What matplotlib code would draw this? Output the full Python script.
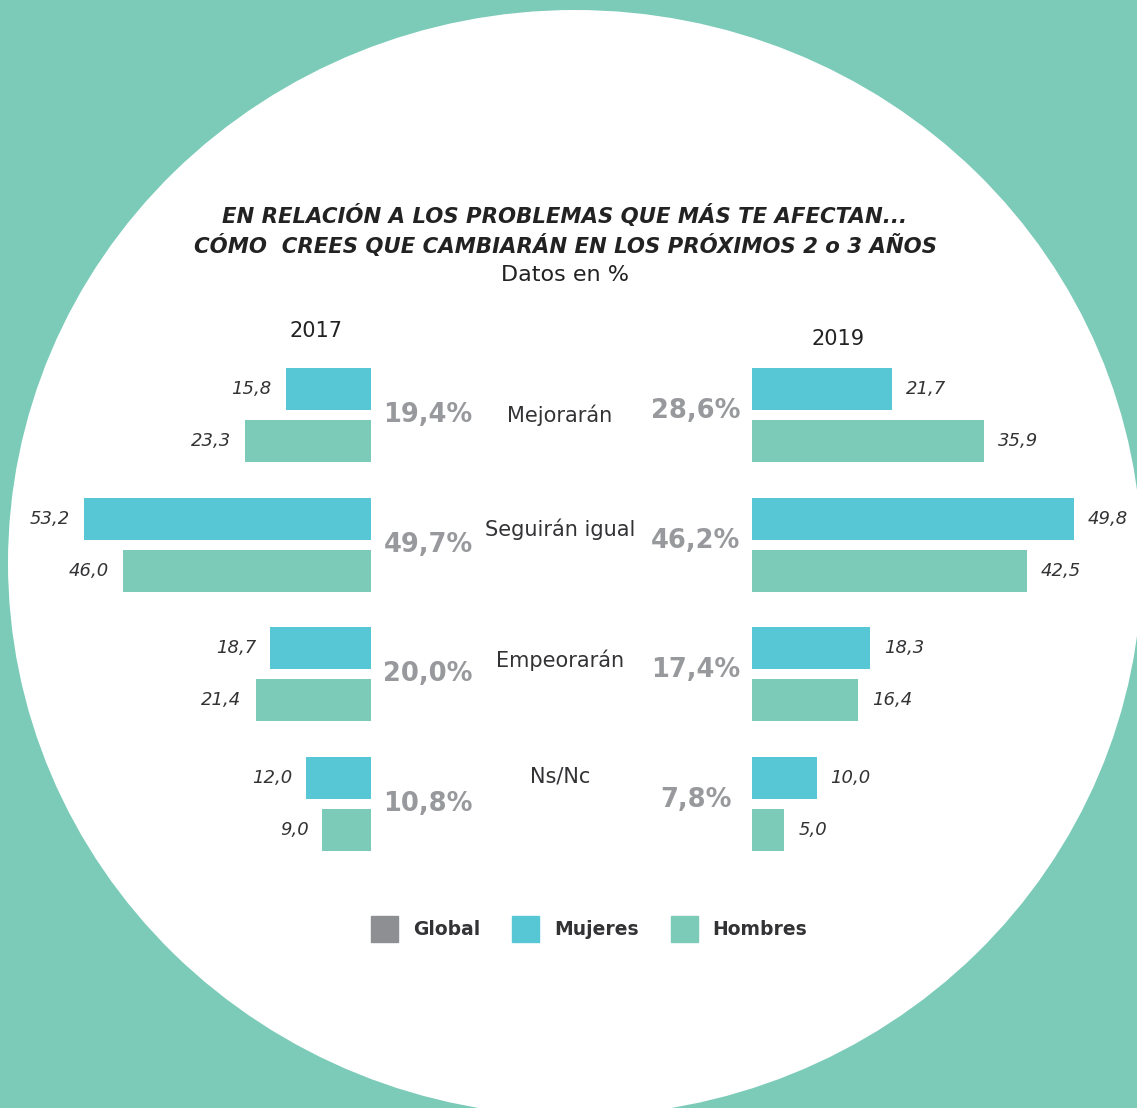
import matplotlib.pyplot as plt
from matplotlib.patches import Ellipse, Patch
from matplotlib.transforms import blended_transform_factory

# data
categories = ["Mejorarán", "Seguirán igual", "Empeorarán", "Ns/Nc"]
mujeres_2017 = [15.8, 53.2, 18.7, 12.0]
hombres_2017 = [23.3, 46.0, 21.4, 9.0]
global_2017 = ["19,4%", "49,7%", "20,0%", "10,8%"]
mujeres_2019 = [21.7, 49.8, 18.3, 10.0]
hombres_2019 = [35.9, 42.5, 16.4, 5.0]
global_2019 = ["28,6%", "46,2%", "17,4%", "7,8%"]

TEAL = "#7bcbb8"
CYAN = "#58c7d5"
GREY = "#8e8f93"
PCT_GREY = "#98999c"
DARK = "#333336"

W, H = 1137, 1108
fig = plt.figure(figsize=(W / 100, H / 100), dpi=100, facecolor=TEAL)

# background: white circle on teal
bg = fig.add_axes([0, 0, 1, 1])
bg.set_xlim(0, W)
bg.set_ylim(H, 0)
bg.axis("off")
bg.add_patch(Ellipse((575, 563), 1134, 1106, fc="white", ec="none"))

# bar panels (pixel geometry of the reference)
unit = 129.67          # px between groups
top_px, bot_px = 340, 880
y_top = -(415 - top_px) / unit
y_bot = y_top + (bot_px - top_px) / unit
ax_rect_y = ((H - bot_px) / H, (bot_px - top_px) / H)

axL = fig.add_axes([47.3 / W, ax_rect_y[0], 323.7 / W, ax_rect_y[1]])
axR = fig.add_axes([752 / W, ax_rect_y[0], 355.6 / W, ax_rect_y[1]])
axL.set_xlim(60, 0)
axR.set_xlim(0, 55)

idx = list(range(len(categories)))
off, bh = 0.2005, 0.324
for ax, muj, hom, side in [(axL, mujeres_2017, hombres_2017, -1),
                           (axR, mujeres_2019, hombres_2019, 1)]:
    ax.set_ylim(y_bot, y_top)
    ax.axis("off")
    ax.patch.set_alpha(0)
    ym = [i - off for i in idx]
    yh = [i + off for i in idx]
    ax.barh(ym, muj, height=bh, color=CYAN)
    ax.barh(yh, hom, height=bh, color=TEAL)
    for vals, ys in [(muj, ym), (hom, yh)]:
        for v, y in zip(vals, ys):
            ax.annotate(f"{v:.1f}".replace(".", ","), (v, y),
                        xytext=(10 * side, 0), textcoords="offset points",
                        ha="right" if side < 0 else "left", va="center",
                        fontsize=13, style="italic", color=DARK,
                        annotation_clip=False)

# global percentages and category names
trL = blended_transform_factory(bg.transData, axL.transData)
cat_dy = [0, -0.116, -0.108, -0.216]
for i in idx:
    bg.text(428, i, global_2017[i], transform=trL, ha="center",
            va="center", fontsize=18.5, fontweight="bold", color=PCT_GREY)
    bg.text(696, i - 0.03, global_2019[i], transform=trL, ha="center",
            va="center", fontsize=18.5, fontweight="bold", color=PCT_GREY)
    bg.text(560, i + cat_dy[i], categories[i], transform=trL, ha="center",
            va="center", fontsize=15, color=DARK)

# titles
bg.text(565, 216, "EN RELACIÓN A LOS PROBLEMAS QUE MÁS TE AFECTAN...",
        ha="center", va="center", fontsize=15.3, fontweight="bold",
        style="italic", color="#222")
bg.text(565, 246, "CÓMO  CREES QUE CAMBIARÁN EN LOS PRÓXIMOS 2 o 3 AÑOS",
        ha="center", va="center", fontsize=15.3, fontweight="bold",
        style="italic", color="#222")
bg.text(565, 275, "Datos en %", ha="center", va="center", fontsize=16,
        color="#222")
bg.text(316, 331, "2017", ha="center", va="center", fontsize=15, color="#222")
bg.text(838, 339, "2019", ha="center", va="center", fontsize=15, color="#222")

handles = [Patch(color=GREY, label="Global"),
           Patch(color=CYAN, label="Mujeres"),
           Patch(color=TEAL, label="Hombres")]
leg = fig.legend(handles=handles, loc="center", ncol=3,
                 bbox_to_anchor=(589 / W, 1 - 929 / H), frameon=False,
                 prop={"weight": "bold", "size": 13.5},
                 handlelength=1.45, handleheight=1.75, handletextpad=0.8,
                 columnspacing=1.7)
for t in leg.get_texts():
    t.set_color(DARK)

fig.savefig("out.png", dpi=100, facecolor=TEAL)
